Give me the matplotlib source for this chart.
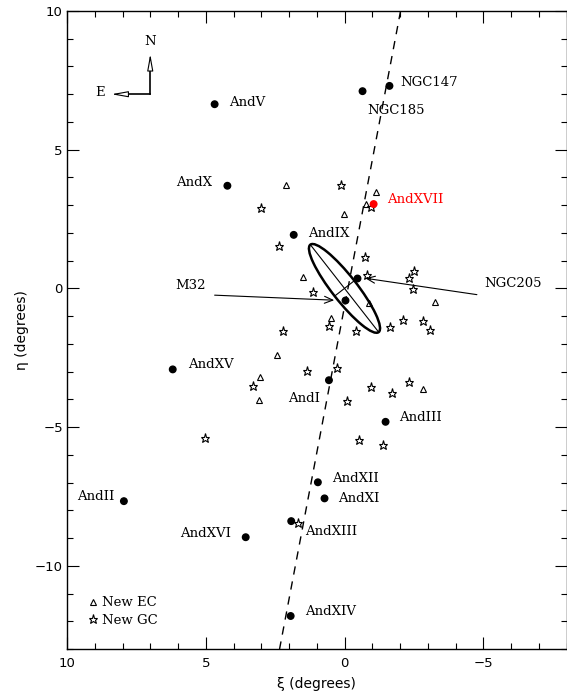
import matplotlib
matplotlib.use("Agg")
import matplotlib.pyplot as plt
from matplotlib.patches import Ellipse
from matplotlib.ticker import MultipleLocator
import numpy as np

# dwarf galaxies (filled dots)
gal_names = ["NGC147", "NGC185", "AndV", "AndX", "AndXVII", "AndIX", "AndXV",
             "AndI", "AndIII", "AndXII", "AndXI", "AndXIII", "AndXVI", "AndXIV", "AndII"]
gal_xi = [-1.62, -0.65, 4.68, 4.22, -1.05, 1.83, 6.19,
          0.56, -1.48, 0.96, 0.72, 1.92, 3.56, 1.94, 7.95]
gal_eta = [7.30, 7.11, 6.64, 3.70, 3.04, 1.93, -2.92,
           -3.31, -4.81, -6.99, -7.57, -8.39, -8.97, -11.81, -7.67]

# M32 and NGC205, inside the M31 disc
inner_names = ["M32", "NGC205"]
inner_xi = [-0.03, -0.45]
inner_eta = [-0.43, 0.38]

# new extended clusters (triangles)
ec_xi = [2.10, -1.12, -0.76, 0.02, 1.48, -0.88, 0.50, 2.45, 3.03, 3.08, -2.84, -3.27]
ec_eta = [3.74, 3.46, 3.04, 2.68, 0.42, -0.54, -1.05, -2.41, -3.20, -4.02, -3.62, -0.50]

# new globular clusters (stars)
gc_xi = [0.14, -0.94, 3.02, 2.37, -0.75, -0.82, 1.14, 0.56, 2.23, -0.42, -1.64,
         1.35, 0.27, 3.30, -0.09, -0.95, -1.70, -2.31, -0.53, -1.38, 5.03,
         -2.49, -2.32, -2.46, -2.10, -2.82, -3.08, 1.68]
gc_eta = [3.73, 2.92, 2.91, 1.54, 1.13, 0.48, -0.12, -1.37, -1.54, -1.52, -1.38,
          -2.99, -2.88, -3.53, -4.07, -3.55, -3.77, -3.37, -5.45, -5.63, -5.39,
          0.62, 0.36, -0.01, -1.15, -1.17, -1.49, -8.46]

# dashed line
line_xi = [-2.02, 2.34]
line_eta = [10.0, -13.0]

# M31 disc
m31_a, m31_b, m31_angle = 2.0, 0.45, 52.0

# label offsets in pixels (dx, dy, ha)
label_off = {
    "NGC147": (11, 3, "left"), "NGC185": (5, -19, "left"), "AndV": (14, 2, "left"),
    "AndX": (-15, 3, "right"), "AndXVII": (13, 5, "left"), "AndIX": (14, 1, "left"),
    "AndXV": (15, 5, "left"), "AndI": (-9, -18, "right"), "AndIII": (14, 4, "left"),
    "AndXII": (14, 4, "left"), "AndXI": (14, 0, "left"), "AndXIII": (14, -10, "left"),
    "AndXVI": (-15, 4, "right"), "AndXIV": (14, 4, "left"), "AndII": (-9, 5, "right"),
}

serif = "DejaVu Serif"
plt.rcParams["font.family"] = "DejaVu Sans"

fig = plt.figure(figsize=(5.67, 6.92), dpi=100)
ax = fig.add_axes([67 / 567, 43 / 692, 499.5 / 567, 638 / 692])

ax.plot(line_xi, line_eta, color="black", lw=1, linestyle=(0, (6, 5)))

ax.add_patch(Ellipse((0, 0), 2 * m31_a, 2 * m31_b, angle=m31_angle,
                     fill=False, ec="black", lw=1.8))
t = np.radians(m31_angle)
ax.plot([m31_a * np.cos(t), -m31_a * np.cos(t)], [m31_a * np.sin(t), -m31_a * np.sin(t)],
        color="black", lw=0.8)
ax.plot([-m31_b * np.sin(t), m31_b * np.sin(t)], [m31_b * np.cos(t), -m31_b * np.cos(t)],
        color="black", lw=0.8)

ax.plot(ec_xi, ec_eta, "^", ms=4, mfc="none", mec="black", mew=0.8, ls="none", label="New EC")
ax.plot(gc_xi, gc_eta, "*", ms=6.5, mfc="none", mec="black", mew=0.8, ls="none", label="New GC")

colors = ["red" if n == "AndXVII" else "black" for n in gal_names]
ax.scatter(gal_xi, gal_eta, s=22, c=colors, zorder=3)
ax.scatter(inner_xi, inner_eta, s=22, c="black", zorder=3)

for name, x, y, c in zip(gal_names, gal_xi, gal_eta, colors):
    dx, dy, ha = label_off[name]
    ax.annotate(name, (x, y), xytext=(dx * 0.72, dy * 0.72), textcoords="offset points",
                ha=ha, va="center", fontsize=9.5, family=serif, color=c)

# arrows to M32 and NGC205
ax.annotate("", xy=(inner_xi[0] + 0.3, inner_eta[0]), xytext=(4.78, -0.24),
            arrowprops=dict(arrowstyle="->,head_length=0.6,head_width=0.25", lw=0.8, color="black"))
ax.text(5.0, 0.11, "M32", ha="right", va="center", fontsize=9.5, family=serif)
ax.annotate("", xy=(inner_xi[1] - 0.2, inner_eta[1]), xytext=(-4.87, -0.24),
            arrowprops=dict(arrowstyle="->,head_length=0.6,head_width=0.25", lw=0.8, color="black"))
ax.text(-5.05, 0.16, "NGC205", ha="left", va="center", fontsize=9.5, family=serif)

# compass
ax.plot([7.0, 7.0], [7.0, 8.0], color="black", lw=1.2)
ax.plot([7.0, 8.0], [7.0, 7.0], color="black", lw=1.2)
ax.annotate("", xy=(7.0, 8.55), xytext=(7.0, 7.95),
            arrowprops=dict(arrowstyle="-|>,head_length=1.0,head_width=0.18", fc="white", ec="black", lw=0.8))
ax.annotate("", xy=(8.5, 7.0), xytext=(7.95, 7.0),
            arrowprops=dict(arrowstyle="-|>,head_length=1.0,head_width=0.18", fc="white", ec="black", lw=0.8))
ax.text(7.0, 8.9, "N", ha="center", va="center", fontsize=9.5, family=serif)
ax.text(8.8, 7.05, "E", ha="center", va="center", fontsize=9.5, family=serif)

ax.set_xlim(10, -8)
ax.set_ylim(-13, 10)
ax.xaxis.set_major_locator(MultipleLocator(5))
ax.xaxis.set_minor_locator(MultipleLocator(1))
ax.yaxis.set_major_locator(MultipleLocator(5))
ax.yaxis.set_minor_locator(MultipleLocator(1))
ax.tick_params(which="both", direction="in", top=True, right=True, labelsize=9.5)
ax.tick_params(which="major", length=8.5, width=0.8)
ax.tick_params(which="minor", length=4.3, width=0.8)
ax.tick_params(axis="x", pad=6)
ax.tick_params(axis="y", pad=3)
for s in ax.spines.values():
    s.set_linewidth(1.0)

ax.set_xlabel("ξ (degrees)", fontsize=10, labelpad=5)
ax.set_ylabel("η (degrees)", fontsize=10, labelpad=4)

leg = ax.legend(loc="lower left", bbox_to_anchor=(0.025, 0.02), frameon=False,
                handlelength=0.6, handletextpad=0.4, labelspacing=0.35, borderpad=0.2,
                prop={"family": serif, "size": 9.5})

fig.savefig("out.png", dpi=100)
